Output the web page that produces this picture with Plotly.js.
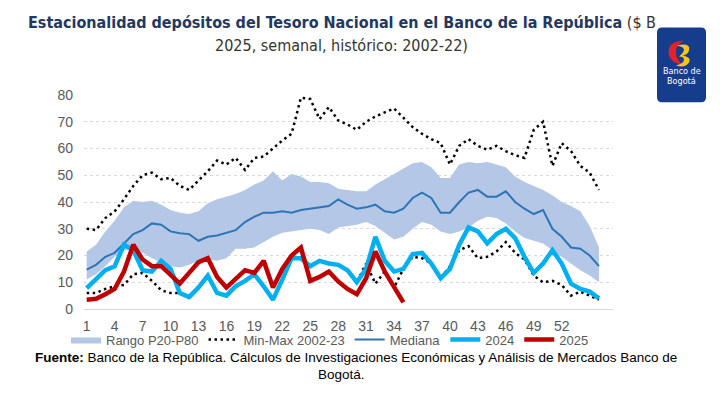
<!DOCTYPE html>
<html><head><meta charset="utf-8">
<script src="https://cdn.plot.ly/plotly-3.0.1.min.js"></script>
<style>html,body{margin:0;padding:0;background:#fff;} #chart{width:720px;height:397px;}</style>
</head><body><div id="chart"></div>
<script>
// Week numbers (x categories)
const weeks = [1,2,3,4,5,6,7,8,9,10,11,12,13,14,15,16,17,18,19,20,21,22,23,24,25,26,27,28,29,30,31,32,33,34,35,36,37,38,39,40,41,42,43,44,45,46,47,48,49,50,51,52,53,54,55,56];
const weeks2025 = [1,2,3,4,5,6,7,8,9,10,11,12,13,14,15,16,17,18,19,20,21,22,23,24,25,26,27,28,29,30,31,32,33,34,35];
const tickWeeks = [1,4,7,10,13,16,19,22,25,28,31,34,37,40,43,46,49,52];

// Percentile band P20-P80
const p20 = [11,13,16,19.5,22,22.5,21,19,17.5,16, 15.5,16.5,18,18.5,18,19,22.5,22.5,23,25, 27,28.5,29,29.5,30,29.5,28,30.5,31,31.5, 32.5,31,28.5,26,27,30,32.5,31.5,29,28, 29,30.5,33,34.5,34,32,29,26.5,25.5,24.5, 22,19.5,17,14.5,12.5,10];
const p80 = [21.5,24,29,33,38,40.5,40,40.5,39,37, 36,35.5,36.5,39.5,41,42,43,44.5,46.5,48, 51.5,48,50.5,49.5,47.5,47.5,47,45,44.5,44, 44,46.5,48.5,50.5,52.5,54.5,55,53,49,49, 54,55,54.5,55,54,53,49.5,47.5,46,44.5, 42.5,40,38.5,36.5,31,23];
// Median
const median = [14.7,16.5,19.5,21,24.5,28,29.5,32,31.5,29, 28.3,28,25.5,27,27.5,28.5,29.5,32.5,34.5,36, 36,36.5,36,37,37.5,38,38.5,41,39,37.5, 38,39,36.5,36,37.5,41.5,43.5,41.5,36,36, 40,43.5,44.5,42,42,44,40,37.5,35.5,37, 30,27,23,22.5,20,16];
// Min-Max 2002-23
const maxVals = [30,29.5,34,36.5,41,46,50,51,48.5,49, 46,44.5,48,51.5,55.5,54,56.5,52,56.5,57, 60,63,65.5,79,78.5,71,75.5,70.5,69,67, 70,72,73.5,75,71.5,68,65.5,63.5,62,54, 61,63.5,61,59.5,61,59,57.5,56.5,67,70, 53.5,62,59,53.5,51,44.5];
const minVals = [6,6,7.5,8.5,9,13,13.5,10.5,7,6, 6,4.5,8,12.5,6,5,8.5,10.5,13,8.5, 3.5,11,19,19,16,18,17,16.5,14.5,10, 17,9.5,14,8,15,19.5,19,17,11.5,16, 22,23.5,19,19.5,21.5,25,21,18.5,12.5,10, 10.5,9,5,6.5,5,3.5];
// Years
const y2024 = [7.8,10.9,14.5,16,24,22,14.5,14,18,15, 6,4.5,8,12.5,6,5,8.5,10.5,13,8.5, 3.5,11,19,19,16,18,17,16.5,14.5,10, 15,27,18,14,15,20.5,21,17,11.5,15, 24,30.5,29,24.5,28,30,26.5,19.5,13.5,17, 22,17,9.5,7.5,6.5,4];
const y2025 = [3.5,3.8,5.5,7.5,14,24,18.5,16,16,12.5, 9.5,13.5,17.5,19,12,8,11,14.5,13.5,18, 8,15,20,23,10.5,12,14,10.3,7.5,5.5, 11.5,21.5,14,8,2.5];

const FONT = 'Liberation Sans, Arial, sans-serif';
const NARROW = 'Liberation Sans Narrow, Arial Narrow, DejaVu Sans Condensed, sans-serif';

const traces = [
  {x: weeks, y: p20, type: 'scatter', mode: 'lines', line: {width: 0, color: '#B4C7E7'}, showlegend: false, hoverinfo: 'skip'},
  {x: weeks, y: p80, type: 'scatter', mode: 'lines', fill: 'tonexty', fillcolor: '#B4C7E7', line: {width: 0, color: '#B4C7E7'}, name: 'Rango P20-P80'},
  {x: weeks, y: maxVals, type: 'scatter', mode: 'lines', line: {color: '#000000', width: 2.5, dash: '2.5px,3.5px'}, name: 'Min-Max 2002-23', legendgroup: 'mm'},
  {x: weeks, y: minVals, type: 'scatter', mode: 'lines', line: {color: '#000000', width: 2.5, dash: '2.5px,3.5px'}, name: 'Min', legendgroup: 'mm', showlegend: false},
  {x: weeks, y: median, type: 'scatter', mode: 'lines', line: {color: '#2E75B6', width: 2}, name: 'Mediana'},
  {x: weeks, y: y2024, type: 'scatter', mode: 'lines', line: {color: '#00B0F0', width: 4.5}, name: '2024'},
  {x: weeks2025, y: y2025, type: 'scatter', mode: 'lines', line: {color: '#C00000', width: 4.5}, name: '2025'}
];

// pixel -> paper helpers for decoration (logo, texts)
const L = 84, R = 613, T = 94.7, B = 309.3;
const px = v => (v - L) / (R - L);
const py = v => (B - v) / (B - T);
function pathFrom(cmds) {
  return cmds.map(c => c[0] + ' ' + c.slice(1).map((v, i) => i % 2 === 0 ? px(v).toFixed(4) : py(v).toFixed(4)).join(',')).join(' ') + ' Z';
}
const rr = (x0, y0, x1, y1, r) => [
  ['M', x0 + r, y0], ['L', x1 - r, y0], ['Q', x1, y0, x1, y0 + r], ['L', x1, y1 - r], ['Q', x1, y1, x1 - r, y1],
  ['L', x0 + r, y1], ['Q', x0, y1, x0, y1 - r], ['L', x0, y0 + r], ['Q', x0, y0, x0 + r, y0]
];

const shapes = [
  {type: 'path', xref: 'paper', yref: 'paper', path: pathFrom(rr(657, 27, 706, 102, 5)), fillcolor: '#163C8C', line: {width: 0}, layer: 'above'},
  {type: 'path', xref: 'paper', yref: 'paper', path: pathFrom([['M', 684, 40], ['Q', 666, 41, 669, 55], ['Q', 672, 63, 682, 64], ['Q', 675, 57, 676, 50], ['Q', 677, 44, 684, 40]]), fillcolor: '#E4202A', line: {width: 0}, layer: 'above'},
  {type: 'path', xref: 'paper', yref: 'paper', path: pathFrom([['M', 677, 45], ['Q', 691, 42, 689, 50], ['Q', 688, 54, 683, 55], ['Q', 692, 57, 689, 62], ['Q', 685, 68, 676, 65], ['Q', 684, 63, 684, 59], ['Q', 684, 56, 679, 56], ['Q', 684, 52, 684, 49], ['Q', 683, 46, 677, 45]]), fillcolor: '#F7C51E', line: {width: 0}, layer: 'above'}
];

const annotations = [
  {xref: 'paper', yref: 'paper', x: px(341), y: py(45), text: '2025, semanal, histórico: 2002-22)', showarrow: false, font: {family: NARROW, size: 16, color: '#333333'}, xanchor: 'center', yanchor: 'middle'},
  {xref: 'paper', yref: 'paper', x: px(681.5), y: py(71), text: 'Banco de', showarrow: false, font: {family: NARROW, size: 9, color: '#FFFFFF'}, xanchor: 'center', yanchor: 'middle'},
  {xref: 'paper', yref: 'paper', x: px(681.5), y: py(81), text: 'Bogotá', showarrow: false, font: {family: NARROW, size: 9, color: '#FFFFFF'}, xanchor: 'center', yanchor: 'middle'},
  {xref: 'paper', yref: 'paper', x: px(356), y: py(358), text: '<b>Fuente:</b> Banco de la República. Cálculos de Investigaciones Económicas y Análisis de Mercados Banco de', showarrow: false, font: {family: FONT, size: 13.5, color: '#000000'}, xanchor: 'center', yanchor: 'middle'},
  {xref: 'paper', yref: 'paper', x: px(341), y: py(375), text: 'Bogotá.', showarrow: false, font: {family: FONT, size: 13.5, color: '#000000'}, xanchor: 'center', yanchor: 'middle'}
];

const layout = {
  width: 720, height: 397,
  margin: {l: L, r: 720 - R, t: T, b: 397 - B, pad: 0},
  paper_bgcolor: '#FFFFFF', plot_bgcolor: '#FFFFFF',
  font: {family: FONT, size: 14, color: '#595959'},
  title: {
    text: "<b>Estacionalidad depósitos del Tesoro Nacional en el Banco de la República</b> <span style='color:#333333'>($ B</span>",
    font: {family: NARROW, size: 16, color: '#1F3864'},
    x: 342 / 720, xref: 'container', xanchor: 'center',
    y: 1 - 22 / 397, yref: 'container', yanchor: 'middle'
  },
  xaxis: {
    range: [1 - (86.7 - L) / 9.314, 1 + (R - 86.7) / 9.314],
    tickvals: tickWeeks, ticktext: tickWeeks.map(String),
    showgrid: false, zeroline: false, showline: true, linecolor: '#D9D9D9', linewidth: 1,
    ticks: '', ticklabelstandoff: 4, tickfont: {family: FONT, size: 14, color: '#595959'}, fixedrange: true
  },
  yaxis: {
    range: [0, 80], tickvals: [0,10,20,30,40,50,60,70,80],
    showgrid: true, gridcolor: '#D9D9D9', griddash: 'dot', gridwidth: 1,
    zeroline: false, showline: false, ticks: '', ticklabelstandoff: 10,
    tickfont: {family: FONT, size: 14, color: '#595959'}, fixedrange: true
  },
  legend: {
    orientation: 'h', x: px(330), xanchor: 'center', y: py(340), yanchor: 'middle',
    font: {family: FONT, size: 13, color: '#595959'}, itemwidth: 30, tracegroupgap: 0,
    bgcolor: 'rgba(0,0,0,0)'
  },
  shapes: shapes,
  annotations: annotations,
  showlegend: true
};

Plotly.newPlot('chart', traces, layout, {displayModeBar: false, staticPlot: true});
</script>
</body></html>
